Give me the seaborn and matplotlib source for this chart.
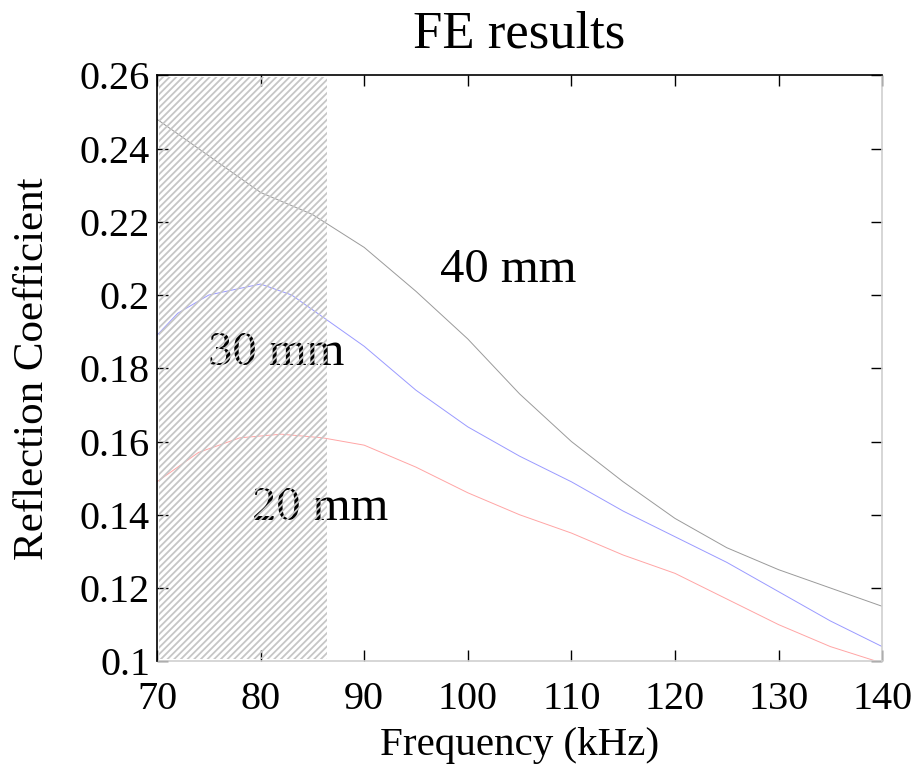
import numpy as np
import pandas as pd
import matplotlib
matplotlib.use('Agg')
import matplotlib.pyplot as plt
import seaborn as sns

# Reflection coefficient vs frequency
freq_40 = [70, 75, 80, 85, 90, 95, 100, 105, 110, 115, 120, 125, 130, 135, 140]
rc_40 = [0.248, 0.238, 0.228, 0.222, 0.213, 0.201, 0.188, 0.173, 0.160,
         0.149, 0.139, 0.131, 0.125, 0.120, 0.115]

freq_30 = [70, 72, 75, 80, 83, 86, 90, 95, 100, 105, 110, 115, 120, 125, 130, 135, 140]
rc_30 = [0.189, 0.195, 0.200, 0.203, 0.200, 0.194, 0.186, 0.174, 0.164, 0.156,
         0.149, 0.141, 0.134, 0.127, 0.119, 0.111, 0.104]

freq_20 = [70, 74, 78, 82, 86, 90, 95, 100, 105, 110, 115, 120, 125, 130, 135, 140]
rc_20 = [0.149, 0.157, 0.161, 0.162, 0.161, 0.159, 0.153, 0.146, 0.140, 0.135,
         0.129, 0.124, 0.117, 0.110, 0.104, 0.0995]

x_ticks = [70, 80, 90, 100, 110, 120, 130, 140]
y_ticks = [0.1, 0.12, 0.14, 0.16, 0.18, 0.2, 0.22, 0.24, 0.26]
y_ticklabels = ['0.1', '0.12', '0.14', '0.16', '0.18', '0.2', '0.22', '0.24', '0.26']

sns.set_style('ticks')
plt.rcParams['font.family'] = ['Liberation Serif', 'DejaVu Serif']
plt.rcParams['text.color'] = 'black'
plt.rcParams['axes.labelcolor'] = 'black'
plt.rcParams['hatch.linewidth'] = 1.3

df = pd.concat([
    pd.DataFrame({'freq': freq_40, 'rc': rc_40, 'thick': '40 mm'}),
    pd.DataFrame({'freq': freq_30, 'rc': rc_30, 'thick': '30 mm'}),
    pd.DataFrame({'freq': freq_20, 'rc': rc_20, 'thick': '20 mm'}),
])

fig = plt.figure(figsize=(9.18, 7.68), dpi=100)
ax = fig.add_axes([0.171, 0.139, 0.790, 0.763])

sns.lineplot(data=df, x='freq', y='rc', hue='thick',
             palette={'40 mm': '#9a9a9a', '30 mm': '#9a9aff', '20 mm': '#ffa5a5'},
             linewidth=0.7, legend=False, ax=ax, zorder=2)

# labels sit under the hatched band
ax.text(103.9, 0.2068, '40 mm', fontsize=35, ha='center', va='center', zorder=1)
ax.text(81.5, 0.1841, '30 mm', fontsize=35, ha='center', va='center', zorder=1)
ax.text(85.7, 0.1418, '20 mm', fontsize=35, ha='center', va='center', zorder=1)

ax.axvspan(70.15, 86.4, ymin=0.003, ymax=0.997, facecolor='none', edgecolor='#c6c6c6',
           hatch='/////', linewidth=0, zorder=3)

ax.set_xlim(70, 140)
ax.set_ylim(0.1, 0.26)
ax.set_xticks(x_ticks)
ax.set_yticks(y_ticks)
ax.set_yticklabels(y_ticklabels)
ax.tick_params(direction='in', length=8, width=1, labelsize=29, colors='black',
               top=True, right=True)
ax.tick_params(axis='x', pad=14)
ax.tick_params(axis='y', pad=5)

for side in ['left', 'top']:
    ax.spines[side].set_color('black')
    ax.spines[side].set_linewidth(1.2)
    ax.spines[side].set_zorder(4)
for side in ['right', 'bottom']:
    ax.spines[side].set_color('#d0d0d0')
    ax.spines[side].set_linewidth(1.2)

ax.set_xlabel('Frequency (kHz)', fontsize=29.5, labelpad=7)
ax.set_ylabel('Reflection Coefficient', fontsize=31, labelpad=20)
ax.set_title('FE results', fontsize=38, pad=20)

fig.savefig('out.png', dpi=100)
